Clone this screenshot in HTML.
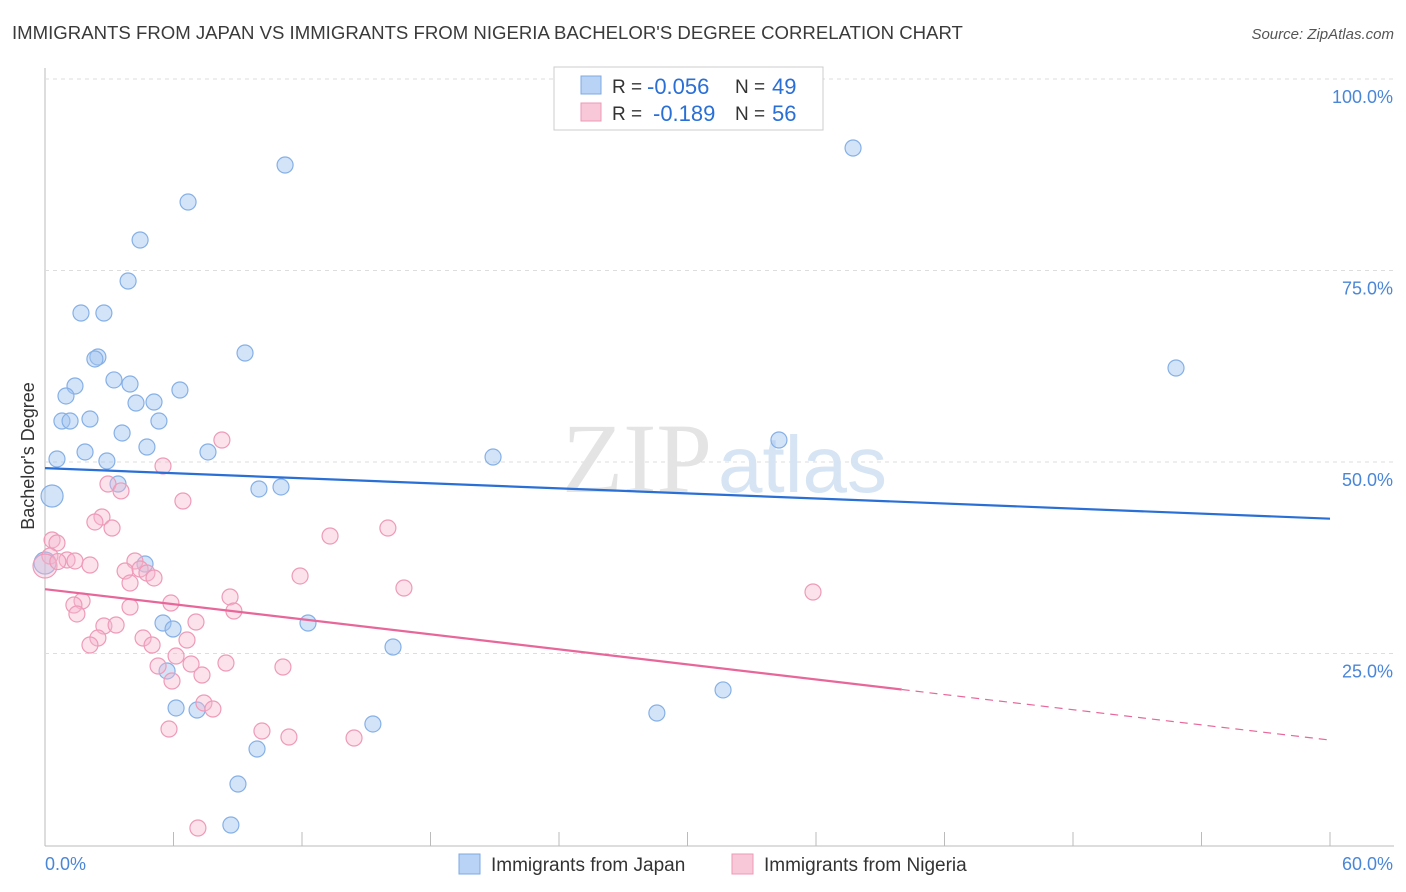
<!DOCTYPE html>
<html><head><meta charset="utf-8"><style>
body{margin:0;background:#fff;font-family:"Liberation Sans",sans-serif;}
svg{display:block}
</style></head><body>
<svg id="chart" width="1406" height="892" xmlns="http://www.w3.org/2000/svg">
<text x="12" y="39" font-size="18.6" fill="#3a3a3a">IMMIGRANTS FROM JAPAN VS IMMIGRANTS FROM NIGERIA BACHELOR'S DEGREE CORRELATION CHART</text>
<text x="1394" y="39" font-size="15" fill="#555" font-style="italic" text-anchor="end">Source: ZipAtlas.com</text>
<g id="grid"></g>
<text x="712" y="492" font-size="100" fill="#e4e4e4" font-family="Liberation Serif,serif" text-anchor="end">ZIP</text>
<text x="718" y="492" font-size="80" fill="#d6e4f4">atlas</text>
<text transform="translate(34,456) rotate(-90)" font-size="18" fill="#333" text-anchor="middle">Bachelor's Degree</text>
<g id="marks"></g>
<g>
<rect x="554" y="67" width="269" height="63" fill="#fff" stroke="#ccc"/>
<rect x="581" y="76" width="20" height="18" fill="#b8d3f5" stroke="#7fa9e0"/>
<rect x="581" y="103" width="20" height="18" fill="#f8c8d8" stroke="#ee9ab8"/>
<text x="612" y="93" font-size="19" fill="#333">R =</text>
<text x="647" y="94" font-size="22" fill="#2a6fd6">-0.056</text>
<text x="735" y="93" font-size="19" fill="#333">N =</text>
<text x="772" y="94" font-size="22" fill="#2a6fd6">49</text>
<text x="612" y="120" font-size="19" fill="#333">R =</text>
<text x="653" y="121" font-size="22" fill="#2a6fd6">-0.189</text>
<text x="735" y="120" font-size="19" fill="#333">N =</text>
<text x="772" y="121" font-size="22" fill="#2a6fd6">56</text>
</g>
<g>
<rect x="459" y="854" width="21" height="20" fill="#b8d3f5" stroke="#7fa9e0"/>
<text x="491" y="871" font-size="19" fill="#333">Immigrants from Japan</text>
<rect x="732" y="854" width="21" height="20" fill="#f8c8d8" stroke="#ee9ab8"/>
<text x="764" y="871" font-size="19" fill="#333">Immigrants from Nigeria</text>
</g>
</svg>
<script>
const xTicks=[0,60];
const yTicks=[25,50,75,100];
const japanX=[11.21,37.73,6.68,4.44,3.88,1.68,2.75,9.34,2.47,2.33,52.81,3.22,3.97,1.40,6.30,0.98,5.09,4.25,0.79,1.17,2.10,5.32,3.60,34.27,4.76,7.61,1.87,0.56,20.92,2.89,0.33,9.99,11.02,3.41,0.0,4.67,12.28,5.51,5.98,16.25,5.70,31.66,6.12,7.10,28.57,15.31,9.90,9.01,8.68];
const japanY=[88.77,90.99,83.94,78.98,73.63,69.45,69.45,64.23,63.71,63.45,62.27,60.71,60.18,59.92,59.40,58.62,57.83,57.70,55.35,55.35,55.61,55.35,53.79,52.87,51.96,51.31,51.31,50.39,50.65,50.13,45.56,46.48,46.74,47.13,36.81,36.68,28.98,28.98,28.20,25.85,22.72,20.24,17.89,17.62,17.23,15.80,12.53,7.96,2.61];
const nigeriaX=[8.26,5.51,6.44,2.94,3.55,2.66,2.33,3.13,16.01,13.31,0.33,0.56,0.23,1.03,1.40,2.10,4.20,3.74,4.44,4.76,5.09,3.97,11.91,16.76,35.86,1.73,1.35,3.97,5.88,8.64,8.82,1.49,7.05,2.75,3.32,2.47,2.10,4.58,5.00,6.63,6.12,5.28,6.82,8.45,11.11,7.33,5.93,7.42,7.84,5.79,10.13,11.39,14.43,7.14,0.0,0.6];
const nigeriaY=[52.87,49.48,44.91,47.13,46.22,42.82,42.17,41.38,41.38,40.34,39.82,39.43,37.73,37.21,37.08,36.55,37.08,35.77,36.03,35.51,34.86,34.20,35.12,33.55,33.03,31.85,31.33,31.07,31.59,32.38,30.55,30.16,29.11,28.59,28.72,27.02,26.11,27.02,26.11,26.76,24.67,23.37,23.63,23.76,23.24,22.19,21.41,18.54,17.75,15.14,14.88,14.10,13.97,2.22,36.42,37.0];
const japanTrend=[49.2,42.6];
const nigeriaTrend=[33.4,20.3,13.7];
const nigeriaSolidEnd=40;
const X0=45,X1=1330,Y0=845,Y100=79;
const sx=v=>X0+(v/60)*(X1-X0);
const sy=v=>Y0-(v/100)*(Y0-Y100);
const NS="http://www.w3.org/2000/svg";
function mk(tag,attrs,parent){const e=document.createElementNS(NS,tag);for(const k in attrs)e.setAttribute(k,attrs[k]);parent.appendChild(e);return e;}
const grid=document.getElementById('grid');
mk('line',{x1:45,y1:68,x2:45,y2:846,stroke:'#bbb'},grid);
mk('line',{x1:45,y1:846,x2:1394,y2:846,stroke:'#bbb'},grid);
for(let i=0;i<=10;i++){const x=sx(i*6);const t=mk('line',{x1:x,y1:832,x2:x,y2:846,stroke:'#bbb'},grid);

}
yTicks.forEach(v=>{const y=sy(v);
const l=mk('line',{x1:45,y1:y,x2:1394,y2:y,stroke:'#ddd','stroke-dasharray':'4,4'},grid);


const t=mk('text',{x:1393,y:y+24,'font-size':18,fill:'#4a86d8','text-anchor':'end'},grid);t.textContent=v.toFixed(1)+'%';

});
xTicks.forEach((v,i)=>{const t=mk('text',{x:i?1393:45,y:870,'font-size':18,fill:'#4a86d8','text-anchor':i?'end':'start'},grid);t.textContent=v.toFixed(1)+'%';

});
const marks=document.getElementById('marks');
japanX.forEach((x,i)=>{const r=(i==30||i==34)?11:8;
const c=mk('circle',{cx:sx(x),cy:sy(japanY[i]),r:r,fill:'rgba(160,196,240,0.45)',stroke:'#85b0e6','stroke-width':1.2},marks);

});
nigeriaX.forEach((x,i)=>{const r=(i==54)?12:8;
const c=mk('circle',{cx:sx(x),cy:sy(nigeriaY[i]),r:r,fill:'rgba(246,182,204,0.4)',stroke:'#ee9ab8','stroke-width':1.2},marks);

});
const bl=mk('line',{x1:sx(0),y1:sy(japanTrend[0]),x2:sx(60),y2:sy(japanTrend[1]),stroke:'#2a6fd6','stroke-width':2.2},marks);


const pl=mk('line',{x1:sx(0),y1:sy(nigeriaTrend[0]),x2:sx(nigeriaSolidEnd),y2:sy(nigeriaTrend[1]),stroke:'#e8679a','stroke-width':2.2},marks);


const pd=mk('line',{x1:sx(nigeriaSolidEnd),y1:sy(nigeriaTrend[1]),x2:sx(60),y2:sy(nigeriaTrend[2]),stroke:'#e8679a','stroke-width':1.2,'stroke-dasharray':'8,6'},marks);


</script>
</body></html>
